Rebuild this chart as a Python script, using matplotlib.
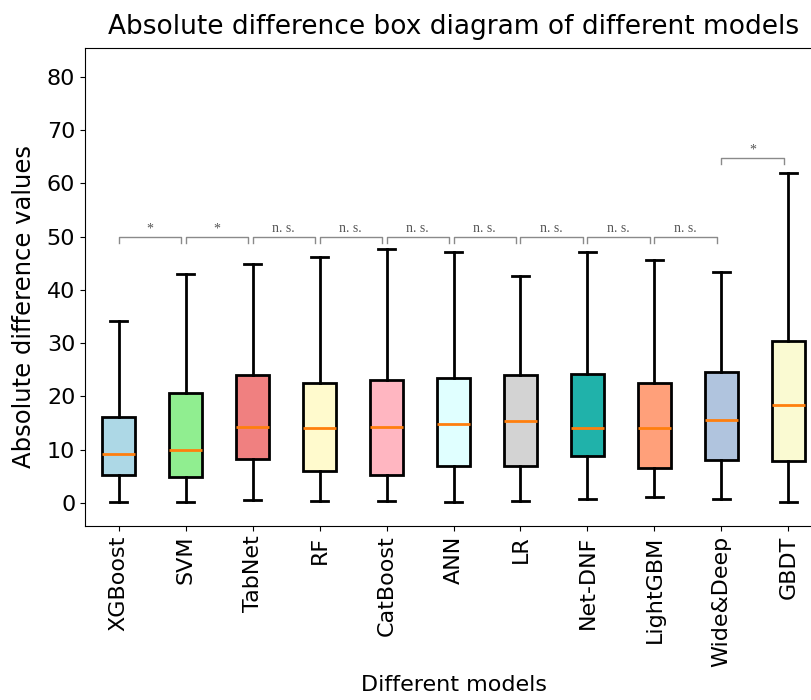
import matplotlib
matplotlib.use('Agg')
import matplotlib.pyplot as plt
import numpy as np

# box statistics
models = ["XGBoost", "SVM", "TabNet", "RF", "CatBoost", "ANN", "LR",
          "Net-DNF", "LightGBM", "Wide&Deep", "GBDT"]
whislo = [0.2, 0.2, 0.6, 0.4, 0.4, 0.2, 0.4, 0.7, 1.2, 0.7, 0.2]
q1 = [5.2, 4.8, 8.3, 6.0, 5.2, 6.9, 6.9, 8.8, 6.6, 8.1, 7.9]
med = [9.2, 10.0, 14.3, 14.1, 14.3, 14.9, 15.4, 14.1, 14.1, 15.6, 18.4]
q3 = [16.1, 20.7, 24.1, 22.5, 23.1, 23.4, 24.0, 24.3, 22.5, 24.6, 30.5]
whishi = [34.1, 42.9, 44.8, 46.2, 47.6, 47.1, 42.7, 47.1, 45.7, 43.3, 62.0]

colors = ["lightblue", "lightgreen", "lightcoral", "lemonchiffon", "lightpink",
          "lightcyan", "lightgray", "lightseagreen", "lightsalmon",
          "lightsteelblue", "lightgoldenrodyellow"]

# significance between neighbouring models (left index, right index, label, level)
sig_pairs = [(1, 2, "*", 50), (2, 3, "*", 50), (3, 4, "n. s.", 50), (4, 5, "n. s.", 50),
             (5, 6, "n. s.", 50), (6, 7, "n. s.", 50), (7, 8, "n. s.", 50),
             (8, 9, "n. s.", 50), (9, 10, "n. s.", 50), (10, 11, "*", 64.8)]

stats = []
for i in range(len(models)):
    stats.append({"whislo": whislo[i], "q1": q1[i], "med": med[i],
                  "q3": q3[i], "whishi": whishi[i], "fliers": []})

fig = plt.figure(figsize=(8.12, 7), dpi=100)
ax = fig.add_axes([0.1047, 0.2486, 0.9076, 0.6828])

pos = np.arange(1, len(models) + 1)
bp = ax.bxp(stats, positions=pos, widths=0.5, patch_artist=True, showfliers=False,
            boxprops=dict(linewidth=2.0, edgecolor="black"),
            whiskerprops=dict(linewidth=2.0, color="black"),
            capprops=dict(linewidth=2.0, color="black"),
            medianprops=dict(linewidth=2.0, color="#ff7f0e"))
for patch, c in zip(bp["boxes"], colors):
    patch.set_facecolor(c)

for a, b, lab, y in sig_pairs:
    x0, x1 = a, b - 0.07
    ax.plot([x0, x0, x1, x1], [y - 1.2, y, y, y - 1.2], color="#8a8a8a", lw=1.0)
    ax.text((x0 + x1) / 2, y + 0.3, lab, ha="center", va="bottom",
            fontsize=10, family="Liberation Serif", color="#555555")

ax.set_xlim(0.5, len(models) + 0.5)
ax.set_ylim(-4.3, 85.4)
ax.set_yticks(np.arange(0, 90, 10))
ax.set_xticks(pos)
ax.set_xticklabels(models, rotation=90)
ax.tick_params(labelsize=16)
ax.set_xlabel("Different models", fontsize=16, labelpad=6)
ax.set_ylabel("Absolute difference values", fontsize=17.5)
ax.yaxis.set_label_coords(-0.066, 0.46)
ax.set_title("Absolute difference box diagram of different models", fontsize=19, pad=10)

plt.savefig("out.png", dpi=100)
